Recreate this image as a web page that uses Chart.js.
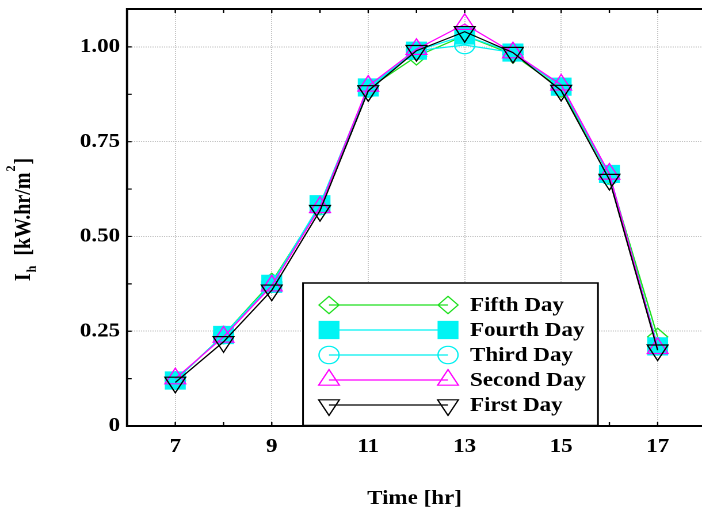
<!DOCTYPE html>
<html>
<head>
<meta charset="utf-8">
<script src="https://cdn.jsdelivr.net/npm/chart.js@4.4.1/dist/chart.umd.min.js"></script>
<style>
  html, body { margin: 0; padding: 0; background: #fff; overflow: hidden; }
  /* the figure is laid out 610px wide and widened to the 702px page */
  #wrap { width: 610px; height: 513px; transform: scaleX(1.15082); transform-origin: 0 0; }
</style>
</head>
<body>
<div id="wrap"><canvas id="chart" width="610" height="513"></canvas></div>
<script>
// Hourly horizontal irradiance I_h [kW.hr/m^2] over five days
const HOURS      = [7, 8, 9, 10, 11, 12, 13, 14, 15, 16, 17];
const FIFTH_DAY  = [0.120, 0.240, 0.380, 0.580, 0.890, 0.975, 1.030, 0.980, 0.890, 0.660, 0.235];
const FOURTH_DAY = [0.120, 0.240, 0.375, 0.585, 0.893, 0.990, 1.030, 0.985, 0.895, 0.665, 0.210];
const THIRD_DAY  = [0.120, 0.240, 0.375, 0.580, 0.890, 0.990, 1.005, 0.985, 0.895, 0.660, 0.210];
const SECOND_DAY = [0.125, 0.235, 0.370, 0.577, 0.897, 0.994, 1.060, 0.985, 0.900, 0.665, 0.205];
const FIRST_DAY  = [0.115, 0.222, 0.358, 0.568, 0.884, 0.990, 1.040, 0.985, 0.885, 0.650, 0.200];

const SERIES_NAMES  = ['Fifth Day', 'Fourth Day', 'Third Day', 'Second Day', 'First Day'];
const X_TICKS       = [7, 9, 11, 13, 15, 17];
const Y_TICKS       = [0, 0.25, 0.5, 0.75, 1.0];
const Y_TICK_LABELS = ['0', '0.25', '0.50', '0.75', '1.00'];

const SERIF = '"Liberation Serif", "Times New Roman", Times, serif';
const boldFont = (size) => ({ family: SERIF, size: size, weight: 'bold' });

const toPoints = (vals) => HOURS.map((h, i) => ({ x: h, y: vals[i] }));

const styles = [
  { color: '#1ee01e', pointStyle: 'rectRot',  radius: 8.7,  fill: false, rotation: 0   },
  { color: '#00f4f4', pointStyle: 'rect',     radius: 12,   fill: true,  rotation: 0   },
  { color: '#00f0f0', pointStyle: 'circle',   radius: 8.7,  fill: false, rotation: 0   },
  { color: '#ff00ff', pointStyle: 'triangle', radius: 10.4, fill: false, rotation: 0   },
  { color: '#000000', pointStyle: 'triangle', radius: 10.4, fill: false, rotation: 180 }
];
const seriesValues = [FIFTH_DAY, FOURTH_DAY, THIRD_DAY, SECOND_DAY, FIRST_DAY];

const datasets = seriesValues.map((vals, i) => ({
  label: SERIES_NAMES[i],
  data: toPoints(vals),
  borderColor: styles[i].color,
  borderWidth: 1.2,
  pointStyle: styles[i].pointStyle,
  pointRadius: styles[i].radius,
  pointRotation: styles[i].rotation,
  pointBorderColor: styles[i].color,
  pointBackgroundColor: styles[i].fill ? styles[i].color : 'rgba(0,0,0,0)',
  pointBorderWidth: 1.2,
  tension: 0,
  order: seriesValues.length - 1 - i   // First Day ends up on top
}));

// frame, inward tick marks, axis titles and the boxed legend
const decorations = {
  id: 'decorations',
  beforeDraw(chart) {
    const { ctx, width, height } = chart;
    ctx.save();
    ctx.fillStyle = '#fff';
    ctx.fillRect(0, 0, width, height);
    ctx.restore();
  },
  afterDatasetsDraw(chart) {
    const { ctx, chartArea: a, scales: { x, y } } = chart;
    ctx.save();

    // axis frame: left, bottom and top
    ctx.strokeStyle = '#000';
    ctx.lineWidth = 2;
    ctx.beginPath();
    ctx.moveTo(a.right + 4, a.top);
    ctx.lineTo(a.left, a.top);
    ctx.lineTo(a.left, a.bottom);
    ctx.lineTo(a.right + 4, a.bottom);
    ctx.stroke();

    // tick marks pointing into the plot
    ctx.lineWidth = 1.2;
    ctx.beginPath();
    for (let h = Math.ceil(x.min); h <= x.max; h++) {
      const px = x.getPixelForValue(h);
      ctx.moveTo(px, a.bottom); ctx.lineTo(px, a.bottom - 4);
      ctx.moveTo(px, a.top);    ctx.lineTo(px, a.top + 4);
    }
    for (let k = 0; k * 0.125 <= y.max; k++) {
      const py = y.getPixelForValue(k * 0.125);
      ctx.moveTo(a.left, py); ctx.lineTo(a.left + 4, py);
    }
    ctx.stroke();

    // x axis title
    ctx.fillStyle = '#000';
    ctx.font = 'bold 20px ' + SERIF;
    ctx.textAlign = 'center';
    ctx.textBaseline = 'middle';
    ctx.fillText('Time [hr]', (a.left + a.right) / 2, 499);

    // y axis title: I_h [kW.hr/m^2], read bottom to top
    const main = 'bold 20px ' + SERIF, small = 'bold 12px ' + SERIF;
    const parts = [
      { t: 'I', f: main, dy: 0, gap: 1 },
      { t: 'h', f: small, dy: 5, gap: 10 },
      { t: '[kW.hr/m', f: main, dy: 0, gap: 1 },
      { t: '2', f: small, dy: -13, gap: 1 },
      { t: ']', f: main, dy: 0, gap: 0 }
    ];
    let total = 0;
    parts.forEach(p => { ctx.font = p.f; p.w = ctx.measureText(p.t).width; total += p.w + p.gap; });
    ctx.translate(0, (a.top + a.bottom) / 2 + 2);
    ctx.rotate(-Math.PI / 2);
    ctx.textAlign = 'left';
    ctx.textBaseline = 'alphabetic';
    let lx = -total / 2;
    const baseY = 26;
    parts.forEach(p => {
      ctx.font = p.f;
      ctx.fillText(p.t, lx, baseY + p.dy);
      lx += p.w + p.gap;
    });
    ctx.restore();

    // legend box
    ctx.save();
    const box = { l: 263.3, t: 283, r: 519.6, b: 425.5 };
    ctx.fillStyle = '#fff';
    ctx.fillRect(box.l, box.t, box.r - box.l, box.b - box.t);
    ctx.strokeStyle = '#000';
    ctx.lineWidth = 1.5;
    ctx.strokeRect(box.l, box.t, box.r - box.l, box.b - box.t);

    const x1 = 285.9, x2 = 389.3, textX = 408.4;
    chart.data.datasets.forEach((ds, i) => {
      const ry = 305 + i * 25;
      ctx.strokeStyle = ds.borderColor;
      ctx.lineWidth = ds.borderWidth;
      ctx.beginPath();
      ctx.moveTo(x1, ry); ctx.lineTo(x2, ry);
      ctx.stroke();
      [x1, x2].forEach(mx => {
        ctx.fillStyle = ds.pointBackgroundColor;
        ctx.strokeStyle = ds.pointBorderColor;
        ctx.lineWidth = ds.pointBorderWidth;
        Chart.helpers.drawPoint(ctx, {
          pointStyle: ds.pointStyle,
          rotation: ds.pointRotation,
          radius: ds.pointRadius,
          borderWidth: ds.pointBorderWidth
        }, mx, ry);
      });
      ctx.fillStyle = '#000';
      ctx.font = 'bold 20px ' + SERIF;
      ctx.textAlign = 'left';
      ctx.textBaseline = 'middle';
      ctx.fillText(ds.label, textX, ry + 1);
    });
    ctx.restore();
  }
};

new Chart(document.getElementById('chart'), {
  type: 'line',
  data: { datasets },
  options: {
    responsive: false,
    devicePixelRatio: 2,
    animation: false,
    events: [],
    layout: { autoPadding: false, padding: { top: 9, right: 0, bottom: 0, left: 0 } },
    plugins: { legend: { display: false }, tooltip: { enabled: false } },
    scales: {
      x: {
        type: 'linear',
        min: 6,
        max: 17.92,
        afterBuildTicks: (s) => { s.ticks = X_TICKS.map(v => ({ value: v })); },
        afterFit: (s) => { s.height = 87; s.paddingLeft = 0; s.paddingRight = 0; },
        ticks: {
          color: '#000',
          font: boldFont(20),
          padding: 9,
          maxRotation: 0,
          autoSkip: false,
          callback: (v) => String(v)
        },
        grid: { color: '#c4c4c4', lineWidth: 1, drawTicks: false },
        border: { display: false, dash: [1, 1] }
      },
      y: {
        type: 'linear',
        min: 0,
        max: 1.1,
        afterBuildTicks: (s) => { s.ticks = Y_TICKS.map(v => ({ value: v })); },
        afterFit: (s) => { s.width = 110.4; s.paddingTop = 0; s.paddingBottom = 0; },
        ticks: {
          color: '#000',
          font: boldFont(20),
          padding: 6,
          autoSkip: false,
          callback: (v, i) => Y_TICK_LABELS[i]
        },
        grid: { color: '#c4c4c4', lineWidth: 1, drawTicks: false },
        border: { display: false, dash: [1, 1] }
      }
    }
  },
  plugins: [decorations]
});
</script>
</body>
</html>
